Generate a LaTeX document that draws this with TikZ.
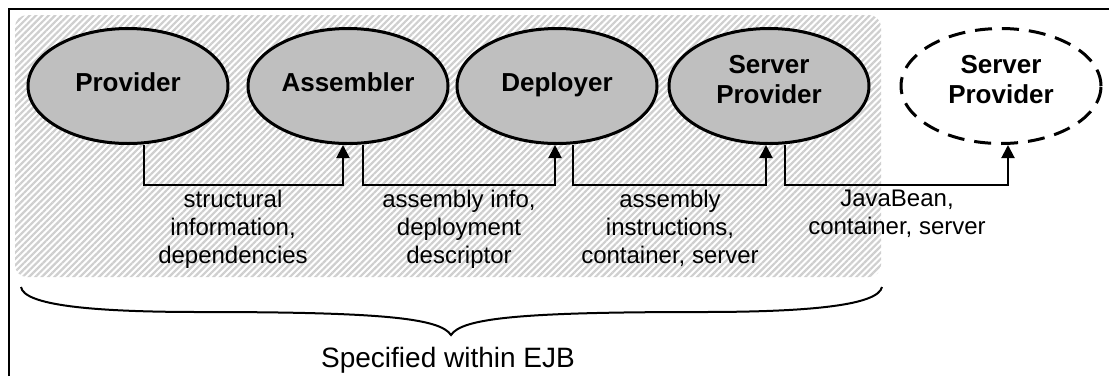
\documentclass[tikz,border=0pt]{standalone}
\usepackage{fontspec}
\setmainfont{Liberation Sans}
\usetikzlibrary{shapes.geometric,arrows.meta,patterns.meta}

\begin{document}
\begin{tikzpicture}[x=1pt,y=-1pt,
  role/.style={ellipse, draw=black, line width=3pt, fill=gray!50,
    minimum width=200pt, minimum height=115pt, inner sep=0pt,
    align=center, text depth=7pt,
    font=\fontsize{26}{30}\selectfont\bfseries},
  tworole/.style={role, text depth=13pt},
  future/.style={tworole, fill=none, dash pattern=on 17pt off 10pt},
  link/.style={line width=2pt, -{Triangle[length=13pt,width=13pt]}},
  info/.style={anchor=north, inner sep=0pt, align=center,
    font=\fontsize{24}{28}\selectfont},
  region/.style={rounded corners=12pt, fill=white,
    pattern={Lines[angle=45,distance=4.5pt,line width=2.2pt]},
    pattern color=gray!38},
]
\useasboundingbox (0,0) rectangle (1109,376);

% frame
\draw[line width=2pt] (9,376) -- (9,9) -- (1109,9);

% roles defined by the EJB specification
\fill[white, rounded corners=12pt] (15,15) rectangle (881,277);
\path[region] (15,15) rectangle (881,277);

\node[role] (prov) at (128,86) {Provider};
\node[role] (asm) at (348,86) {Assembler};
\node[role] (dep) at (557,86) {Deployer};
\node[tworole] (srv) at (769,86) {Server\\Provider};
\node[future] (srv2) at (1001,86) {Server\\Provider};

% hand-offs between roles
\draw[link] ([xshift=16pt]prov.south) -- ++(0,39.5) -| ([xshift=-5pt]asm.south);
\draw[link] ([xshift=15pt]asm.south) -- ++(0,39.5) -| ([xshift=-2pt]dep.south);
\draw[link] ([xshift=16pt]dep.south) -- ++(0,39.5) -| ([xshift=-3pt]srv.south);
\draw[link] ([xshift=16pt]srv.south) -- ++(0,39.5) -| ([xshift=7pt]srv2.south);

\node[info] (l1) at (233,190) {structural\\information,\\dependencies};
\node[info] (l2) at (459,190) {assembly info,\\deployment\\descriptor};
\node[info] (l3) at (670,190) {assembly\\instructions,\\container, server};
\node[info] (l4) at (897,190) {JavaBean,\\container, server};

% brace under the specified roles
\draw[line width=2pt]
  (21,287) .. controls (24,305) and (90,312) .. (200,312)
  .. controls (380,312) and (440,318) .. (451,335)
  .. controls (462,318) and (522,312) .. (702,312)
  .. controls (812,312) and (878,305) .. (882,287);
\node[anchor=base, inner sep=0pt, font=\fontsize{28}{34}\selectfont] (ejb) at (448,367) {Specified within EJB};
\end{tikzpicture}
\end{document}
